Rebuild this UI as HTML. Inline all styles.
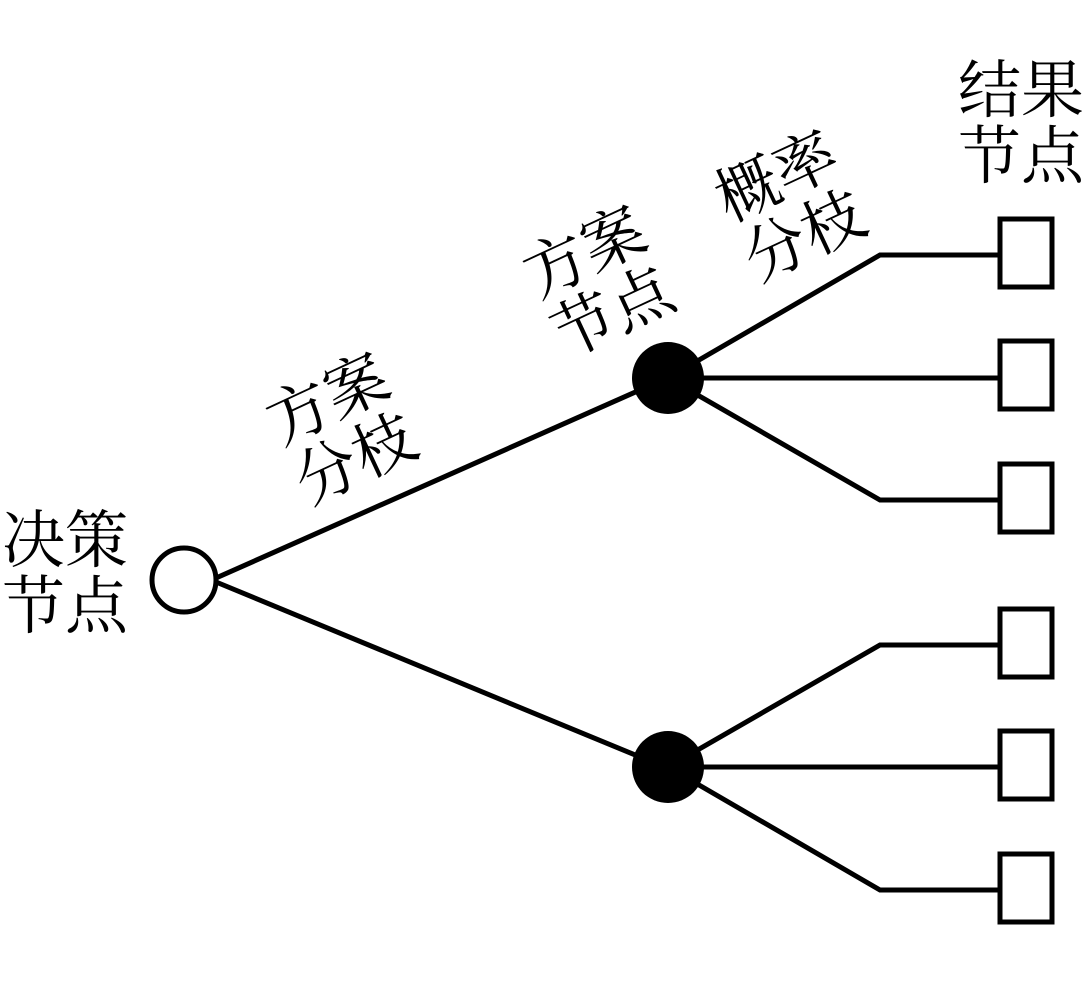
<!DOCTYPE html>
<html><head><meta charset="utf-8"><style>
html,body{margin:0;padding:0;background:#fff;width:1084px;height:992px;overflow:hidden}
.t{position:absolute;font-family:"Liberation Serif","Noto Serif CJK SC",serif;font-size:63px;line-height:66px;color:#000;text-align:center;white-space:nowrap}
.r{transform:translate(-50%,-50%) rotate(-25deg)}
</style></head><body>
<svg width="1084" height="992" style="position:absolute;left:0;top:0">
<g stroke="#000" stroke-width="5" fill="none">
<line x1="216" y1="578" x2="640" y2="390"/>
<line x1="216" y1="582" x2="640" y2="757"/>
<polyline points="668,378 880,255 1000,255"/>
<polyline points="668,378 1000,378"/>
<polyline points="668,378 880,500 1000,500"/>
<polyline points="668,767 880,645 1000,645"/>
<polyline points="668,767 1000,767"/>
<polyline points="668,767 880,890 1000,890"/>
<circle cx="184" cy="580" r="32" fill="#fff"/>
<rect x="1000" y="219" width="52" height="68" fill="#fff"/>
<rect x="1000" y="341" width="52" height="68" fill="#fff"/>
<rect x="1000" y="464" width="52" height="68" fill="#fff"/>
<rect x="1000" y="609" width="52" height="68" fill="#fff"/>
<rect x="1000" y="731" width="52" height="68" fill="#fff"/>
<rect x="1000" y="854" width="52" height="68" fill="#fff"/>
</g>
<circle cx="668" cy="378" r="36" fill="#000"/>
<circle cx="668" cy="767" r="36" fill="#000"/>
</svg>
<div class="t" style="left:-2px;top:508px;width:134px;">决策<br>节点</div>
<div class="t" style="left:954px;top:58px;width:134px;">结果<br>节点</div>
<div class="t r" style="left:342px;top:430px;">方案<br>分枝</div>
<div class="t r" style="left:599px;top:283px;">方案<br>节点</div>
<div class="t r" style="left:791px;top:207px;">概率<br>分枝</div>
</body></html>
